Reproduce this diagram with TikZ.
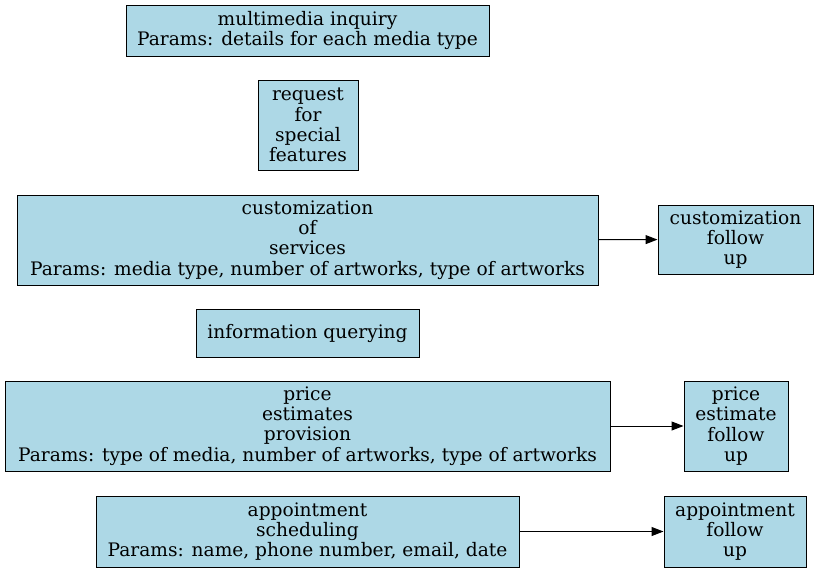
\documentclass[tikz,border=0pt]{standalone}
\usepackage{fontspec}
\setmainfont{DejaVu Serif}
\usetikzlibrary{arrows.meta}
\definecolor{nodeblue}{HTML}{ADD8E6}
\begin{document}
\begin{tikzpicture}[x=1pt,y=-1pt,
  box/.style={draw=black, fill=nodeblue, line width=1pt, inner sep=0pt, align=center,
    font=\fontsize{18.6}{20.2}\selectfont},
  link/.style={draw=black, line width=1pt, -{Triangle[length=12pt,width=9pt]}}]
\useasboundingbox (0,0) rectangle (819,573);
\node[box, minimum width=363pt, minimum height=51pt] (mm) at (307.5,30.5) {multimedia inquiry\\Params: details for each media type};
\node[box, minimum width=100pt, minimum height=90pt] (rs) at (308,125) {request\\for\\special\\features};
\node[box, minimum width=581pt, minimum height=90pt] (cs) at (307.5,240) {customization\\of\\services\\Params: media type, number of artworks, type of artworks};
\node[box, minimum width=155pt, minimum height=69pt] (cf) at (735.5,239.5) {customization\\follow\\up};
\node[box, minimum width=223pt, minimum height=48pt] (iq) at (307.5,333) {information querying};
\node[box, minimum width=605pt, minimum height=90pt] (pe) at (307.5,426) {price\\estimates\\provision\\Params: type of media, number of artworks, type of artworks};
\node[box, minimum width=104pt, minimum height=90pt] (pf) at (736,426) {price\\estimate\\follow\\up};
\node[box, minimum width=423pt, minimum height=71pt] (as) at (307.5,531.5) {appointment\\scheduling\\Params: name, phone number, email, date};
\node[box, minimum width=142pt, minimum height=71pt] (af) at (735,531.5) {appointment\\follow\\up};
\draw[link] (cs) -- (cf);
\draw[link] (pe) -- (pf);
\draw[link] (as) -- (af);
\end{tikzpicture}
\end{document}
